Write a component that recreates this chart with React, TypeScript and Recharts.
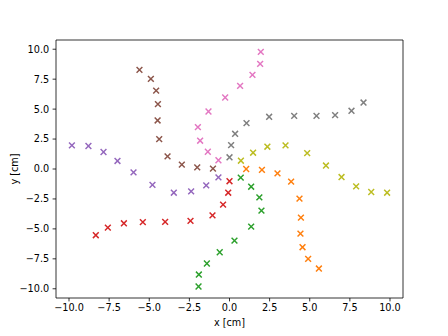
import React from 'react';
import { ScatterChart, Scatter, XAxis, YAxis, ReferenceArea } from 'recharts';

const orangeX = [1.04, 2.02, 2.99, 3.84, 4.36, 4.45, 4.42, 4.55, 4.90, 5.57];
const orangeY = [0.00, -0.08, -0.37, -1.06, -2.47, -4.06, -5.39, -6.53, -7.50, -8.31];
const greenX = [0.70, 1.35, 1.86, 1.99, 1.35, 0.31, -0.61, -1.41, -1.91, -1.93];
const greenY = [-0.72, -1.48, -2.37, -3.48, -4.81, -5.98, -6.95, -7.89, -8.81, -9.81];
const redX = [0.00, -0.08, -0.40, -1.06, -2.43, -4.01, -5.40, -6.58, -7.58, -8.33];
const redY = [-1.02, -1.98, -2.98, -3.87, -4.33, -4.42, -4.44, -4.53, -4.89, -5.53];
const purpleX = [-0.69, -1.45, -2.39, -3.47, -4.80, -5.98, -6.98, -7.85, -8.79, -9.82];
const purpleY = [-0.70, -1.37, -1.87, -1.98, -1.33, -0.28, 0.67, 1.42, 1.92, 1.97];
const brownX = [-1.03, -2.01, -2.97, -3.86, -4.38, -4.48, -4.46, -4.57, -4.90, -5.61];
const brownY = [0.03, 0.13, 0.36, 1.05, 2.50, 4.05, 5.42, 6.55, 7.53, 8.28];
const pinkX = [-0.69, -1.35, -1.83, -1.97, -1.31, -0.27, 0.66, 1.43, 1.91, 1.95];
const pinkY = [0.73, 1.44, 2.36, 3.50, 4.80, 5.97, 6.94, 7.86, 8.78, 9.78];
const grayX = [0.00, 0.10, 0.35, 1.06, 2.47, 4.03, 5.42, 6.58, 7.60, 8.35];
const grayY = [0.98, 2.00, 2.94, 3.83, 4.36, 4.44, 4.44, 4.50, 4.86, 5.55];
const oliveX = [0.71, 1.47, 2.36, 3.49, 4.84, 6.01, 6.98, 7.89, 8.83, 9.82];
const oliveY = [0.69, 1.36, 1.86, 1.97, 1.33, 0.29, -0.67, -1.45, -1.92, -1.98];

const xTicks = [-10, -7.5, -5, -2.5, 0, 2.5, 5, 7.5, 10];
const yTicks = [-10, -7.5, -5, -2.5, 0, 2.5, 5, 7.5, 10];
const xDomain: [number, number] = [-10.81, 10.81];
const yDomain: [number, number] = [-10.77, 10.77];

const zip = (xs: number[], ys: number[]) => xs.map((x, i) => ({ x, y: ys[i] }));

const seriesList = [
  { name: 'orange', color: '#ff7f0e', data: zip(orangeX, orangeY) },
  { name: 'green', color: '#2ca02c', data: zip(greenX, greenY) },
  { name: 'red', color: '#d62728', data: zip(redX, redY) },
  { name: 'purple', color: '#9467bd', data: zip(purpleX, purpleY) },
  { name: 'brown', color: '#8c564b', data: zip(brownX, brownY) },
  { name: 'pink', color: '#e377c2', data: zip(pinkX, pinkY) },
  { name: 'gray', color: '#7f7f7f', data: zip(grayX, grayY) },
  { name: 'olive', color: '#bcbd22', data: zip(oliveX, oliveY) },
];

const fmt = (v: number) => (v < 0 ? '\u2212' : '') + Math.abs(v).toFixed(1);

const FONT = 'DejaVu Sans';
const FS = 9.7;

const makeMark = (color: string) => (props: any) => {
  const { cx, cy } = props;
  const s = 2.9;
  return (
    <path
      d={`M${cx - s},${cy - s}L${cx + s},${cy + s}M${cx - s},${cy + s}L${cx + s},${cy - s}`}
      stroke={color}
      strokeWidth={1.46}
      fill="none"
    />
  );
};

export default function App() {
  return (
    <div style={{ position: 'absolute', left: 0, top: 0, background: '#fff' }}>
      <ScatterChart
        width={448}
        height={336}
        margin={{ top: 40, right: 45, bottom: 0, left: 0 }}
      >
        <XAxis
          dataKey="x"
          type="number"
          domain={xDomain}
          ticks={xTicks}
          allowDataOverflow
          tickFormatter={fmt}
          height={38}
          axisLine={false}
          tickLine={{ stroke: '#000', strokeWidth: 0.8 }}
          tickSize={3.4}
          tickMargin={2.5}
          tick={{ fill: '#000', fontSize: FS, fontFamily: FONT }}
          label={(p: any) => {
            const vb = p.viewBox;
            return (
              <text
                x={vb.x + vb.width / 2}
                y={vb.y + 28}
                textAnchor="middle"
                fontSize={FS}
                fontFamily={FONT}
                fill="#000"
              >
                x [cm]
              </text>
            );
          }}
        />
        <YAxis
          dataKey="y"
          type="number"
          domain={yDomain}
          ticks={yTicks}
          allowDataOverflow
          tickFormatter={fmt}
          width={56}
          axisLine={false}
          tickLine={{ stroke: '#000', strokeWidth: 0.8 }}
          tickSize={3.4}
          tickMargin={3.4}
          tick={{ fill: '#000', fontSize: FS, fontFamily: FONT }}
          label={(p: any) => {
            const vb = p.viewBox;
            const cx = vb.x + 14;
            const cy = vb.y + vb.height / 2;
            return (
              <text
                x={cx}
                y={cy}
                transform={`rotate(-90 ${cx} ${cy})`}
                textAnchor="middle"
                dominantBaseline="central"
                fontSize={FS}
                fontFamily={FONT}
                fill="#000"
              >
                y [cm]
              </text>
            );
          }}
        />
        {seriesList.map((s) => (
          <Scatter
            key={s.name}
            name={s.name}
            data={s.data}
            fill={s.color}
            shape={makeMark(s.color)}
            isAnimationActive={false}
          />
        ))}
        <ReferenceArea
          x1={xDomain[0]}
          x2={xDomain[1]}
          y1={yDomain[0]}
          y2={yDomain[1]}
          fill="none"
          fillOpacity={0}
          stroke="#000"
          strokeWidth={0.8}
          ifOverflow="visible"
        />
      </ScatterChart>
    </div>
  );
}
